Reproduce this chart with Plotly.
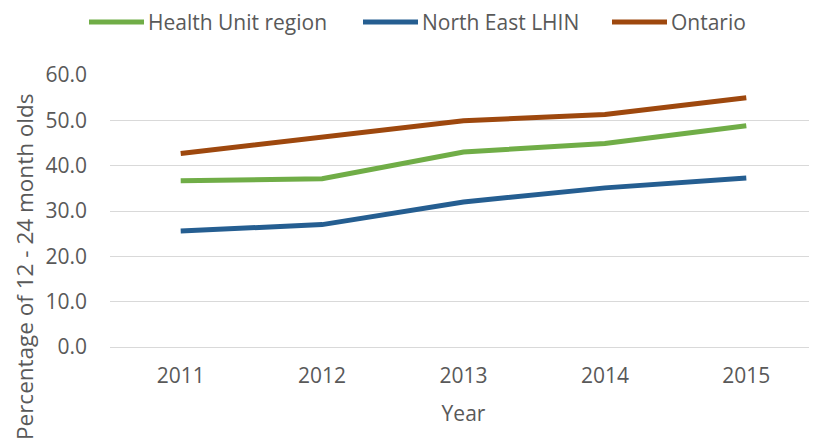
import plotly.graph_objects as go

years = ["2011", "2012", "2013", "2014", "2015"]
health_unit = [36.7, 37.1, 43.0, 44.9, 48.8]
north_east = [25.6, 27.0, 32.0, 35.1, 37.3]
ontario = [42.7, 46.2, 49.9, 51.3, 55.0]

series = [
    ("Health Unit region", health_unit, "#70AD47"),
    ("North East LHIN", north_east, "#255E91"),
    ("Ontario", ontario, "#9E480E"),
]

font_family = "Open Sans, Liberation Sans, sans-serif"
text_color = "#595959"

# figure geometry (px) used to place the legend entries
FIG_W, FIG_H = 809, 434
M_L, M_R, M_T, M_B = 102, 0, 67, 95
PLOT_W = FIG_W - M_L - M_R
PLOT_H = FIG_H - M_T - M_B
legend_line_starts = [81, 355, 604]   # px from figure left
legend_line_len = 55
legend_y_px = 14                      # px from figure top


def px_to_paper_x(px):
    return (px - M_L) / PLOT_W


def px_to_paper_y(py):
    return (FIG_H - M_B - py) / PLOT_H


fig = go.Figure()
shapes = []
annotations = []
ly = px_to_paper_y(legend_y_px)
for (name, vals, color), x0 in zip(series, legend_line_starts):
    fig.add_trace(go.Scatter(
        x=years, y=vals, name=name, mode="lines",
        line=dict(color=color, width=5),
        showlegend=False,
    ))
    shapes.append(dict(
        type="line", xref="paper", yref="paper",
        x0=px_to_paper_x(x0), x1=px_to_paper_x(x0 + legend_line_len),
        y0=ly, y1=ly, line=dict(color=color, width=5),
    ))
    annotations.append(dict(
        text=name, xref="paper", yref="paper",
        x=px_to_paper_x(x0 + legend_line_len + 2), y=ly,
        xanchor="left", yanchor="middle", showarrow=False,
        font=dict(size=21, color=text_color, family=font_family),
    ))

annotations.append(dict(
    text="Percentage of 12 - 24 month olds",
    xref="paper", yref="paper", x=0, y=0,
    xshift=-86, yshift=80, textangle=-90,
    showarrow=False, xanchor="center", yanchor="middle",
    font=dict(size=22.5, color=text_color, family=font_family),
))

fig.update_layout(
    width=FIG_W, height=FIG_H,
    margin=dict(l=M_L, r=M_R, t=M_T, b=M_B, autoexpand=False),
    paper_bgcolor="white", plot_bgcolor="white",
    font=dict(family=font_family, color=text_color, size=21),
    showlegend=False,
    xaxis=dict(
        type="category", range=[-0.5, 4.5],
        showgrid=False, showline=False, zeroline=False,
        ticks="", tickfont=dict(size=21, color=text_color),
        ticklabelstandoff=14,
        title=dict(text="Year", font=dict(size=21, color=text_color), standoff=18),
    ),
    yaxis=dict(
        range=[0, 60], dtick=10, tickformat=".1f",
        showgrid=True, gridcolor="#D9D9D9", gridwidth=1,
        zeroline=True, zerolinecolor="#D9D9D9", zerolinewidth=1,
        showline=False, ticks="",
        tickfont=dict(size=21, color=text_color),
        ticklabelstandoff=22,
    ),
    shapes=shapes,
    annotations=annotations,
)

fig.write_html("out.html")
